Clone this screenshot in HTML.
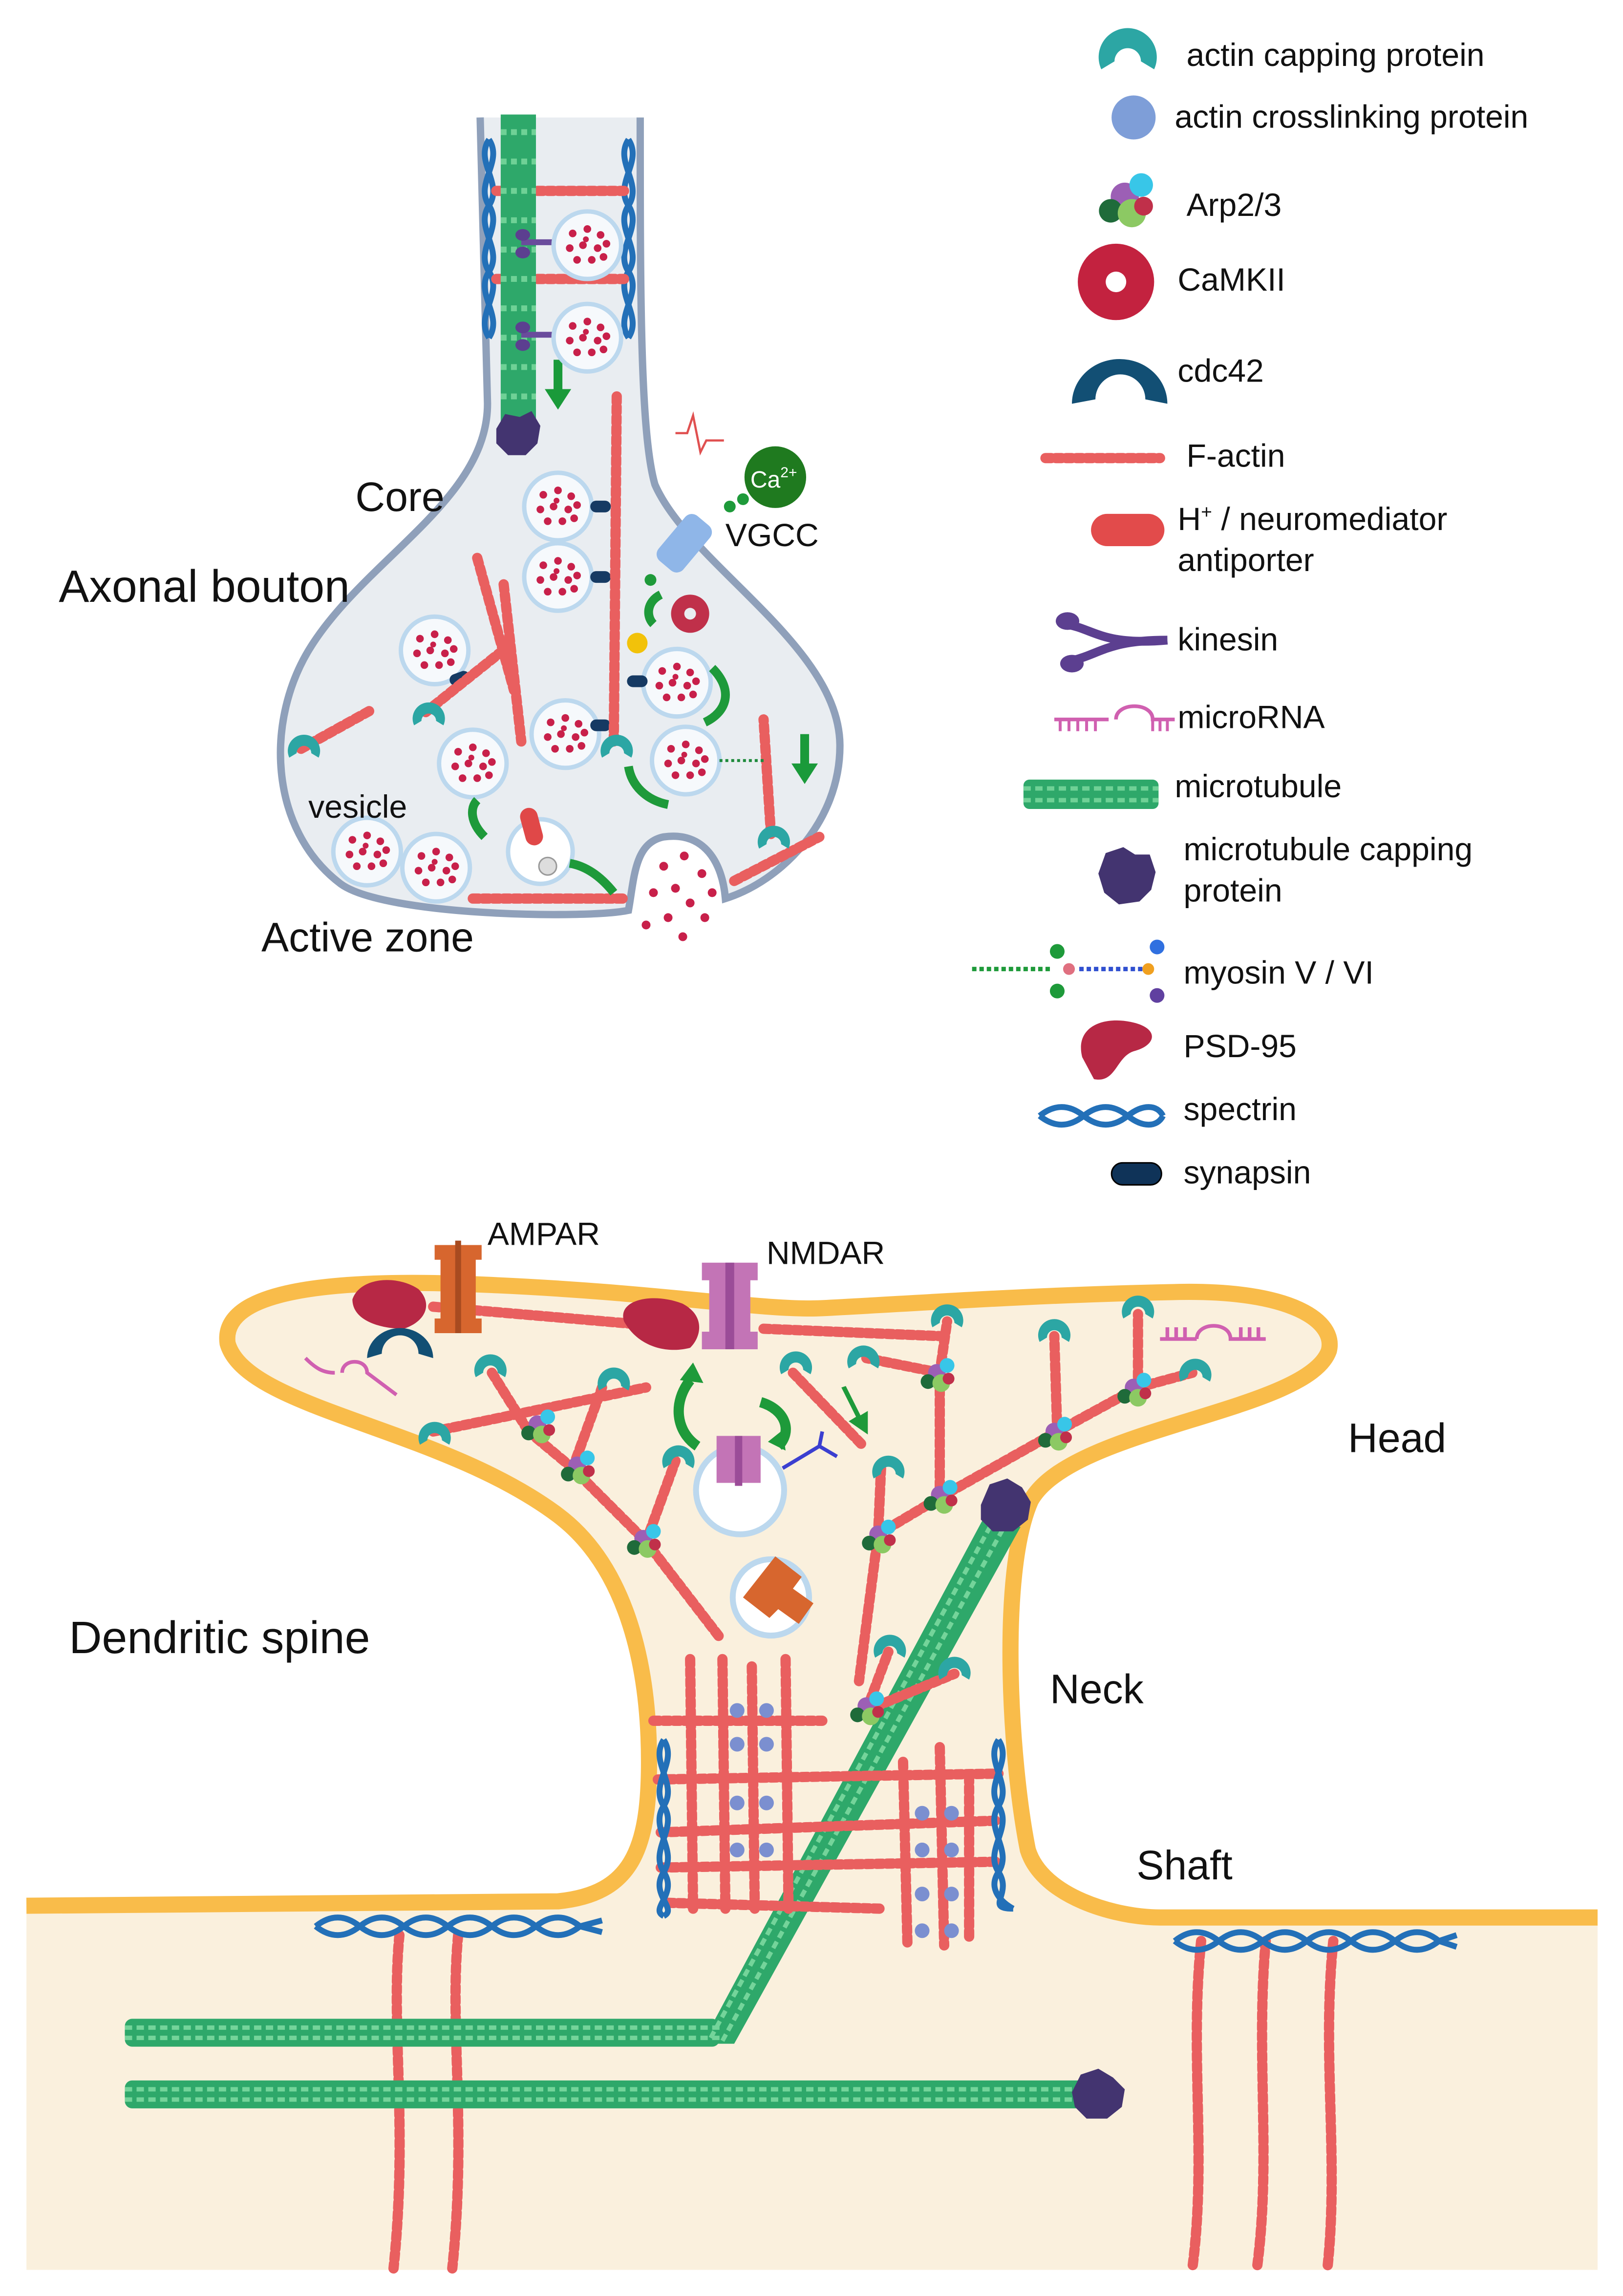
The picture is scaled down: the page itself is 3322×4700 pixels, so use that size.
<!DOCTYPE html>
<html><head><meta charset="utf-8"><style>
html,body{margin:0;padding:0;background:#fff;}
svg{display:block;}
text{font-family:"Liberation Sans",sans-serif;fill:#111;}
.fa{stroke:#e95f5f;stroke-width:7;stroke-linecap:round;stroke-dasharray:4 3;fill:none;}
.mt{fill:#2ea86a;}
.sp{stroke:#2370b8;stroke-width:4;fill:none;}
</style></head><body>
<svg width="3322" height="4700" viewBox="0 0 1105.3 1563.8" preserveAspectRatio="none" xmlns="http://www.w3.org/2000/svg">
<defs>
<g id="ves"><circle r="23" fill="#f6f9fc" stroke="#bcd8ee" stroke-width="3"/>
<g fill="#c8204a"><circle cx="-10" cy="-8" r="2.6"/><circle cx="0" cy="-11" r="2.6"/><circle cx="9" cy="-7" r="2.6"/><circle cx="-12" cy="2" r="2.6"/><circle cx="-3" cy="0" r="2.6"/><circle cx="7" cy="2" r="2.6"/><circle cx="13" cy="-1" r="2.6"/><circle cx="-7" cy="10" r="2.6"/><circle cx="3" cy="10" r="2.6"/><circle cx="11" cy="8" r="2.6"/><circle cx="-1" cy="-4" r="2"/></g></g>
<g id="cap"><path d="M-10,4 A11,11 0 1 1 10,4 L5,1 A5,5 0 1 0 -5,1 Z" fill="#2ca6a4"/></g>
<g id="arp"><circle cx="0" cy="0" r="6" fill="#9c5fb5"/><circle cx="7" cy="-5" r="5" fill="#38c6e8"/><circle cx="-6" cy="6" r="5" fill="#1f6b3a"/><circle cx="3" cy="7" r="6" fill="#8cc963"/><circle cx="8" cy="4" r="4" fill="#c0304a"/></g>
</defs>
<rect width="1105.3" height="1563.8" fill="#fff"/>

<!-- ===== Axonal bouton ===== -->
<path d="M327,80 L332,275 C332,340 250,380 212,440 C180,490 183,565 232,602 C262,624 400,626 428,620 C432,598 432,574 452,570 C480,566 492,588 494,612 C532,600 572,560 572,508 C572,440 470,385 446,330 C436,295 436,200 436,80" fill="#e9edf1" stroke="#8fa0ba" stroke-width="5"/>
<path class="sp" d="M333,95 C343,110 323,125 333,140 C343,155 323,170 333,185 C343,200 323,215 333,230"/>
<path class="sp" d="M333,95 C323,110 343,125 333,140 C323,155 343,170 333,185 C323,200 343,215 333,230"/>
<path class="sp" d="M428,95 C438,110 418,125 428,140 C438,155 418,170 428,185 C438,200 418,215 428,230"/>
<path class="sp" d="M428,95 C418,110 438,125 428,140 C418,155 438,170 428,185 C418,200 438,215 428,230"/>
<line class="fa" x1="338" y1="130" x2="425" y2="130"/><line class="fa" x1="338" y1="190" x2="425" y2="190"/>
<rect class="mt" x="341" y="78" width="24" height="215"/>
<path d="M341,90 L365,90 M341,110 L365,110 M341,130 L365,130 M341,150 L365,150 M341,170 L365,170 M341,190 L365,190 M341,210 L365,210 M341,230 L365,230 M341,250 L365,250 M341,270 L365,270" stroke="#6fd196" stroke-width="4" stroke-dasharray="4 3"/>
<path d="M338,292 l6,-10 l10,2 l8,-4 l6,10 l-2,12 l-8,8 l-12,0 l-8,-8z" fill="#433470"/>
<path d="M377,245 l0,20 l-6,0 l9,14 l9,-14 l-6,0 l0,-20z" fill="#1a9a3a"/>
<path d="M545,500 l0,20 l-6,0 l9,14 l9,-14 l-6,0 l0,-20z" fill="#1a9a3a"/>
<path d="M355,165 L378,165 M355,228 L378,228" stroke="#6a4c9c" stroke-width="4"/>
<ellipse cx="356" cy="160" rx="5" ry="4" fill="#5c3f90"/><ellipse cx="356" cy="172" rx="5" ry="4" fill="#5c3f90"/>
<ellipse cx="356" cy="223" rx="5" ry="4" fill="#5c3f90"/><ellipse cx="356" cy="235" rx="5" ry="4" fill="#5c3f90"/>
<use href="#ves" x="400" y="167"/><use href="#ves" x="400" y="230"/>
<use href="#ves" x="380" y="345"/><use href="#ves" x="380" y="393"/>
<use href="#ves" x="296" y="443"/><use href="#ves" x="385" y="500"/>
<use href="#ves" x="322" y="520"/><use href="#ves" x="467" y="518"/>
<use href="#ves" x="461" y="465"/><use href="#ves" x="250" y="580"/>
<use href="#ves" x="297" y="591"/>
<circle cx="368" cy="580" r="22" fill="#fff" stroke="#bcd8ee" stroke-width="3"/>
<rect x="356" y="550" width="12" height="26" rx="6" fill="#e04848" transform="rotate(-15 362 563)"/>
<circle cx="373" cy="590" r="6" fill="#ddd" stroke="#999"/>
<g fill="#163a63"><rect x="402" y="341" width="14" height="8" rx="4"/><rect x="402" y="389" width="14" height="8" rx="4"/><rect x="306" y="458" width="14" height="8" rx="4" transform="rotate(-20 313 462)"/><rect x="402" y="490" width="14" height="8" rx="4"/><rect x="427" y="460" width="14" height="8" rx="4"/></g>
<line class="fa" x1="420" y1="270" x2="418" y2="505"/>
<line class="fa" x1="325" y1="380" x2="350" y2="470"/>
<line class="fa" x1="343" y1="398" x2="355" y2="505"/>
<line class="fa" x1="290" y1="485" x2="340" y2="445"/>
<line class="fa" x1="205" y1="510" x2="252" y2="484"/>
<line class="fa" x1="525" y1="568" x2="520" y2="490"/>
<line class="fa" x1="500" y1="600" x2="558" y2="570"/>
<line class="fa" x1="322" y1="612" x2="425" y2="612"/>
<use href="#cap" x="207" y="512"/><use href="#cap" x="292" y="490"/><use href="#cap" x="420" y="512"/><use href="#cap" x="527" y="574"/>
<line stroke="#1e8a3c" stroke-width="2" stroke-dasharray="2 2" x1="490" y1="518" x2="520" y2="518"/>
<g fill="#c8204a"><circle cx="452" cy="590" r="3"/><circle cx="466" cy="583" r="3"/><circle cx="478" cy="595" r="3"/><circle cx="445" cy="608" r="3"/><circle cx="460" cy="605" r="3"/><circle cx="470" cy="615" r="3"/><circle cx="455" cy="625" r="3"/><circle cx="480" cy="625" r="3"/><circle cx="440" cy="630" r="3"/><circle cx="465" cy="638" r="3"/><circle cx="485" cy="608" r="3"/></g>
<circle cx="528" cy="325" r="21" fill="#1f7a1f"/>
<text x="511" y="332" font-size="16" style="fill:#fff">Ca<tspan font-size="10" dy="-7">2+</tspan></text>
<circle cx="497" cy="345" r="4" fill="#1e9a3a"/><circle cx="506" cy="340" r="4" fill="#1e9a3a"/><circle cx="443" cy="395" r="4" fill="#1e9a3a"/>
<rect x="455" y="350" width="22" height="40" rx="6" fill="#8fb6e8" transform="rotate(40 466 370)"/>
<path d="M460,295 l8,0 l4,-12 l5,25 l4,-8 l12,0" stroke="#e05050" stroke-width="1.5" fill="none"/>
<circle cx="470" cy="418" r="13" fill="#c0304a"/><circle cx="470" cy="418" r="4" fill="#e9edf1"/>
<circle cx="434" cy="438" r="7" fill="#f2c20a"/>
<g fill="none" stroke="#1e9a3a" stroke-width="6">
<path d="M450,405 C440,410 440,420 445,425"/>
<path d="M485,455 C500,470 495,485 480,492"/>
<path d="M428,522 C430,535 440,545 455,548"/>
<path d="M330,570 C320,560 320,550 325,545"/>
<path d="M388,588 C400,590 410,598 418,608"/>
</g>

<text x="40" y="410" font-size="31">Axonal bouton</text>
<text x="242" y="348" font-size="28">Core</text>
<text x="210" y="557" font-size="22">vesicle</text>
<text x="178" y="648" font-size="28">Active zone</text>
<text x="494" y="372" font-size="22">VGCC</text>

<!-- ===== Legend ===== -->
<g font-size="22">
<g transform="translate(768 40) scale(1.8)"><use href="#cap"/></g>
<text x="808" y="45">actin capping protein</text>
<circle cx="772" cy="80" r="15" fill="#7e9ed8"/>
<text x="800" y="87">actin crosslinking protein</text>
<g transform="translate(766 134) scale(1.6)"><use href="#arp"/></g>
<text x="808" y="147">Arp2/3</text>
<circle cx="760" cy="192" r="26" fill="#c3223f"/><circle cx="760" cy="192" r="7" fill="#fff"/>
<text x="802" y="198">CaMKII</text>
<path d="M730,275 A32,30 0 1 1 795,275 L780,272 A17,17 0 1 0 746,272 Z" fill="#124f74"/>
<text x="802" y="260">cdc42</text>
<line class="fa" x1="712" y1="312" x2="790" y2="312"/>
<text x="808" y="318">F-actin</text>
<rect x="743" y="350" width="50" height="22" rx="11" fill="#e24b4b"/>
<text x="802" y="361">H<tspan font-size="13" dy="-8">+</tspan><tspan dy="8"> / neuromediator</tspan></text>
<text x="802" y="389">antiporter</text>
<path d="M725,425 C745,428 750,440 795,436" stroke="#5c3f90" stroke-width="6" fill="none"/>
<path d="M730,450 C750,445 755,436 795,436" stroke="#5c3f90" stroke-width="6" fill="none"/>
<ellipse cx="727" cy="423" rx="8" ry="6" fill="#5c3f90"/><ellipse cx="730" cy="452" rx="8" ry="6" fill="#5c3f90"/>
<text x="802" y="443">kinesin</text>
<path d="M718,490 L755,490 M760,490 C760,478 785,478 785,490 L800,490" stroke="#d060b0" stroke-width="2.5" fill="none"/>
<path d="M722,490 v8 M728,490 v8 M734,490 v8 M740,490 v8 M746,490 v8 M785,490 v8 M790,490 v8 M795,490 v8" stroke="#d060b0" stroke-width="2"/>
<text x="802" y="496">microRNA</text>
<rect class="mt" x="697" y="531" width="92" height="20" rx="4"/>
<path d="M697,537 H789 M697,545 H789" stroke="#6fd196" stroke-width="3" stroke-dasharray="5 3"/>
<text x="800" y="543">microtubule</text>
<path d="M748,595 l5,-14 l12,-4 l8,5 l10,0 l4,12 l-3,12 l-8,8 l-14,2 l-10,-8z" fill="#433470"/>
<text x="806" y="586">microtubule capping</text>
<text x="806" y="614">protein</text>
<line x1="662" y1="660" x2="715" y2="660" stroke="#1e9a3a" stroke-width="3" stroke-dasharray="3 2"/>
<line x1="735" y1="660" x2="780" y2="660" stroke="#3050d0" stroke-width="3" stroke-dasharray="3 2"/>
<circle cx="720" cy="648" r="5" fill="#1e9a3a"/><circle cx="720" cy="675" r="5" fill="#1e9a3a"/><circle cx="728" cy="660" r="4" fill="#e07080"/>
<circle cx="788" cy="645" r="5" fill="#3070e0"/><circle cx="788" cy="678" r="5" fill="#6040a0"/><circle cx="782" cy="660" r="4" fill="#f0a020"/>
<text x="806" y="670">myosin V / VI</text>
<path d="M737,720 C732,700 750,692 770,696 C790,700 788,712 772,716 C760,720 760,738 745,735 Z" fill="#b72845"/>
<text x="806" y="720">PSD-95</text>
<path class="sp" d="M708,760 C718,752 728,752 738,760 C748,768 758,768 768,760 C778,752 788,752 792,760"/>
<path class="sp" d="M708,760 C718,768 728,768 738,760 C748,752 758,752 768,760 C778,768 788,768 792,760"/>
<text x="806" y="763">spectrin</text>
<rect x="757" y="792" width="34" height="15" rx="7.5" fill="#0f3358" stroke="#000" stroke-width="1"/>
<text x="806" y="806">synapsin</text>
</g>

<!-- ===== Dendritic spine ===== -->
<path d="M18,1298 L380,1295 C430,1290 442,1260 442,1200 C442,1120 420,1062 380,1032 C300,972 168,960 155,915 C150,880 220,870 330,875 C450,880 520,893 560,891 C620,888 700,882 800,880 C880,878 910,900 905,920 C890,962 730,972 702,1022 C680,1072 688,1200 700,1260 C710,1292 760,1306 790,1306 L1088,1306 L1088,1546 L18,1546 Z" fill="#faf0dd"/>
<path d="M18,1298 L380,1295 C430,1290 442,1260 442,1200 C442,1120 420,1062 380,1032 C300,972 168,960 155,915 C150,880 220,870 330,875 C450,880 520,893 560,891 C620,888 700,882 800,880 C880,878 910,900 905,920 C890,962 730,972 702,1022 C680,1072 688,1200 700,1260 C710,1292 760,1306 790,1306 L1088,1306" fill="none" stroke="#f9bc4a" stroke-width="11"/>

<g class="fa">
<path d="M272,1318 C266,1380 278,1450 268,1545"/><path d="M312,1318 C306,1380 318,1450 308,1545"/>
<path d="M818,1322 C810,1400 822,1470 812,1545"/><path d="M862,1322 C855,1400 866,1470 856,1545"/><path d="M908,1322 C900,1400 912,1470 904,1545"/>
</g>
<path class="sp" d="M215,1312 C225,1304 235,1304 245,1312 C255,1320 265,1320 275,1312 C285,1304 295,1304 305,1312 C315,1320 325,1320 335,1312 C345,1304 355,1304 365,1312 C375,1320 385,1320 395,1312 L410,1308"/>
<path class="sp" d="M215,1312 C225,1320 235,1320 245,1312 C255,1304 265,1304 275,1312 C285,1320 295,1320 305,1312 C315,1304 325,1304 335,1312 C345,1320 355,1320 365,1312 C375,1304 385,1304 395,1312 L410,1316"/>
<path class="sp" d="M800,1322 C810,1314 820,1314 830,1322 C840,1330 850,1330 860,1322 C870,1314 880,1314 890,1322 C900,1330 910,1330 920,1322 C930,1314 940,1314 950,1322 C960,1330 970,1330 980,1322 L992,1318"/>
<path class="sp" d="M800,1322 C810,1330 820,1330 830,1322 C840,1314 850,1314 860,1322 C870,1330 880,1330 890,1322 C900,1314 910,1314 920,1322 C930,1330 940,1330 950,1322 C960,1314 970,1314 980,1322 L992,1326"/>

<g>
<rect class="mt" x="85" y="1375" width="405" height="19" rx="5"/>
<rect class="mt" x="85" y="1417" width="660" height="19" rx="5"/>
<path class="mt" d="M478,1392 L672,1030 L695,1040 L500,1392 Z"/>
<path d="M85,1381 H490 M85,1388 H490 M85,1423 H745 M85,1430 H745" stroke="#74d49a" stroke-width="3" stroke-dasharray="5 3"/>
<path d="M484,1388 L678,1033 M492,1390 L686,1036" stroke="#74d49a" stroke-width="3" stroke-dasharray="5 3"/>
<path d="M730,1425 l6,-12 l12,-4 l10,6 l8,8 l-2,12 l-10,8 l-14,0 l-8,-8z" fill="#433470"/>
<path d="M668,1025 l6,-14 l12,-4 l10,6 l6,10 l-2,12 l-10,8 l-14,0 l-8,-8z" fill="#433470"/>
</g>

<g class="fa">
<line x1="470" y1="1130" x2="472" y2="1300"/><line x1="492" y1="1130" x2="494" y2="1300"/><line x1="512" y1="1135" x2="514" y2="1300"/><line x1="535" y1="1130" x2="537" y2="1300"/>
<line x1="615" y1="1200" x2="618" y2="1325"/><line x1="640" y1="1190" x2="643" y2="1325"/><line x1="660" y1="1210" x2="660" y2="1320"/>
<line x1="445" y1="1172" x2="560" y2="1172"/><line x1="448" y1="1212" x2="680" y2="1208"/><line x1="450" y1="1248" x2="680" y2="1240"/><line x1="450" y1="1272" x2="680" y2="1268"/><line x1="455" y1="1296" x2="600" y2="1300"/>
</g>
<g fill="#7b8fd0">
<circle cx="502" cy="1165" r="5"/><circle cx="522" cy="1165" r="5"/><circle cx="502" cy="1188" r="5"/><circle cx="522" cy="1188" r="5"/><circle cx="502" cy="1228" r="5"/><circle cx="522" cy="1228" r="5"/><circle cx="502" cy="1260" r="5"/><circle cx="522" cy="1260" r="5"/>
<circle cx="628" cy="1235" r="5"/><circle cx="648" cy="1235" r="5"/><circle cx="628" cy="1260" r="5"/><circle cx="648" cy="1260" r="5"/><circle cx="628" cy="1290" r="5"/><circle cx="648" cy="1290" r="5"/><circle cx="628" cy="1315" r="5"/><circle cx="648" cy="1315" r="5"/>
</g>
<path class="sp" d="M452,1185 C462,1200 442,1215 452,1230 C462,1245 442,1260 452,1275 C462,1290 442,1300 452,1305"/>
<path class="sp" d="M452,1185 C442,1200 462,1215 452,1230 C442,1245 462,1260 452,1275 C442,1290 462,1300 452,1305"/>
<path class="sp" d="M680,1185 C690,1200 670,1215 680,1230 C690,1245 670,1260 680,1275 C690,1290 670,1300 690,1300"/>
<path class="sp" d="M680,1185 C670,1200 690,1215 680,1230 C670,1245 690,1260 680,1275 C670,1290 690,1300 690,1300"/>

<g class="fa">
<line x1="295" y1="890" x2="470" y2="905"/><line x1="520" y1="905" x2="640" y2="910"/>
<line x1="335" y1="935" x2="360" y2="975"/><line x1="295" y1="975" x2="440" y2="945"/>
<line x1="360" y1="975" x2="390" y2="1000"/><line x1="390" y1="1000" x2="410" y2="945"/>
<line x1="390" y1="1000" x2="440" y2="1050"/><line x1="440" y1="1050" x2="490" y2="1115"/>
<line x1="440" y1="1050" x2="460" y2="995"/><line x1="540" y1="935" x2="588" y2="985"/>
<line x1="600" y1="1000" x2="598" y2="1045"/><line x1="598" y1="1045" x2="585" y2="1145"/>
<line x1="598" y1="1045" x2="640" y2="1020"/><line x1="640" y1="1020" x2="640" y2="935"/>
<line x1="640" y1="935" x2="590" y2="925"/><line x1="640" y1="935" x2="645" y2="900"/>
<line x1="640" y1="1020" x2="720" y2="975"/><line x1="720" y1="975" x2="775" y2="945"/>
<line x1="720" y1="975" x2="718" y2="910"/><line x1="775" y1="945" x2="775" y2="895"/>
<line x1="775" y1="945" x2="812" y2="935"/><line x1="590" y1="1165" x2="650" y2="1140"/>
<line x1="590" y1="1165" x2="605" y2="1125"/>
</g>
<use href="#cap" x="296" y="980"/><use href="#cap" x="334" y="934"/><use href="#cap" x="418" y="943"/><use href="#cap" x="462" y="996"/><use href="#cap" x="542" y="932"/><use href="#cap" x="605" y="1003"/><use href="#cap" x="588" y="928"/><use href="#cap" x="645" y="900"/><use href="#cap" x="718" y="910"/><use href="#cap" x="775" y="894"/><use href="#cap" x="814" y="937"/><use href="#cap" x="650" y="1140"/><use href="#cap" x="606" y="1125"/>
<use href="#arp" x="366" y="970"/><use href="#arp" x="393" y="998"/><use href="#arp" x="438" y="1048"/><use href="#arp" x="638" y="935"/><use href="#arp" x="598" y="1045"/><use href="#arp" x="640" y="1018"/><use href="#arp" x="718" y="975"/><use href="#arp" x="772" y="945"/><use href="#arp" x="590" y="1162"/>

<path d="M240,885 C245,870 270,868 285,878 C295,888 290,900 275,905 C260,905 240,900 240,885Z" fill="#b72845"/>
<path d="M250,925 A22,20 0 1 1 295,925 L285,922 A12,12 0 1 0 260,922 Z" fill="#124f74"/>
<path d="M296,848 h32 v10 h-4 v40 h4 v10 h-32 v-10 h4 v-40 h-4z" fill="#d7662e"/>
<line x1="312" y1="845" x2="312" y2="908" stroke="#a84b20" stroke-width="4"/>
<path d="M425,900 C420,885 445,880 465,888 C480,896 478,910 470,918 C455,922 435,918 425,900Z" fill="#b72845"/>
<path d="M478,860 h38 v12 h-5 v35 h5 v12 h-38 v-12 h5 v-35 h-5z" fill="#c374b6"/>
<line x1="497" y1="860" x2="497" y2="919" stroke="#9b4c98" stroke-width="6"/>
<circle cx="504" cy="1015" r="30" fill="#fff" stroke="#bcd8ee" stroke-width="4"/>
<path d="M488,978 h30 v32 h-30z" fill="#c374b6"/>
<line x1="503" y1="978" x2="503" y2="1012" stroke="#9b4c98" stroke-width="5"/>
<circle cx="525" cy="1088" r="26" fill="#fff" stroke="#bcd8ee" stroke-width="4"/>
<path d="M528,1060 l18,14 l-6,8 l14,10 l-10,14 l-14,-10 l-6,6 l-18,-14z" fill="#d7662e"/>
<path d="M533,1000 L558,985 L570,992 M558,985 L560,975" stroke="#3b3fd0" stroke-width="2.5" fill="none"/>
<path d="M208,925 C215,932 220,935 228,935 M233,935 C233,925 250,925 250,935 L270,950" stroke="#d060b0" stroke-width="2.5" fill="none"/>
<path d="M790,912 L815,912 M815,912 C815,900 838,900 838,912 L862,912 M795,912 v-8 M801,912 v-8 M807,912 v-8 M845,912 v-8 M851,912 v-8 M857,912 v-8" stroke="#d060b0" stroke-width="2.5" fill="none"/>
<g fill="none" stroke="#1e9a3a" stroke-width="7">
<path d="M475,985 C460,975 458,955 470,940"/>
<path d="M518,955 C535,960 540,975 530,985"/>
</g>
<path d="M463,940 l9,-12 l7,14z" fill="#1e9a3a"/>
<path d="M523,982 l12,6 l-2,-14z" fill="#1e9a3a"/>
<path d="M573,945 l10,20 l-5,3 l13,9 l0,-16 l-5,3 l-10,-20z" fill="#1e9a3a"/>

<text x="332" y="848" font-size="22">AMPAR</text>
<text x="522" y="861" font-size="22">NMDAR</text>
<text x="47" y="1126" font-size="31">Dendritic spine</text>
<text x="918" y="989" font-size="28">Head</text>
<text x="715" y="1160" font-size="28">Neck</text>
<text x="774" y="1280" font-size="28">Shaft</text>
</svg>
</body></html>
